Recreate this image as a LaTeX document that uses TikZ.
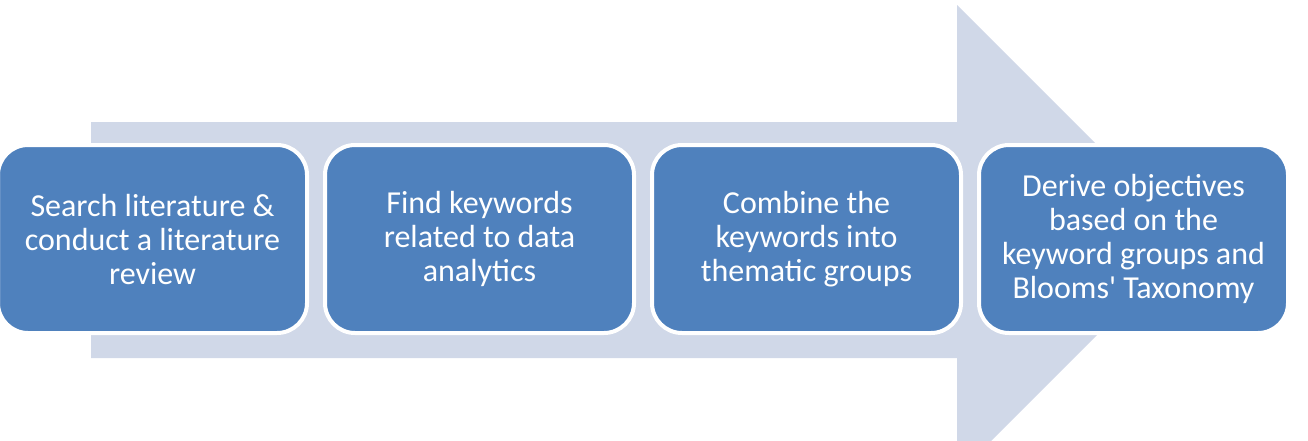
\documentclass[tikz,border=0pt]{standalone}
\usepackage{fontspec}
\setmainfont{Carlito}
\usepackage{xcolor}
\definecolor{arrowfill}{HTML}{D0D8E8}
\definecolor{stepfill}{HTML}{4F81BD}

\begin{document}
\begin{tikzpicture}[x=1pt,y=-1pt,
  stepbox/.style={fill=stepfill, draw=white, line width=4pt, rounded corners=30pt,
    minimum width=309pt, minimum height=188pt, inner sep=0pt,
    text=white, align=center, font=\fontsize{32}{34}\selectfont}]
\useasboundingbox (0,0) rectangle (1308,440);
\clip (0,0) rectangle (1308,440);
% background arrow
\fill[arrowfill] (91,122) -- (957,122) -- (957,5) -- (1192,240) -- (957,475)
  -- (957,358) -- (91,358) -- cycle;
% steps
\node[stepbox] (search) at (152.5,239) {Search literature \&\\conduct a literature\\review};
\node[stepbox] (keywords) at (479.5,239) {Find keywords\\related to data\\analytics};
\node[stepbox] (combine) at (806.5,239) {Combine the\\keywords into\\thematic groups};
\node[stepbox] (derive) at (1133.5,239) {Derive objectives\\based on the\\keyword groups and\\Blooms\textquotesingle\ Taxonomy};
\end{tikzpicture}
\end{document}
